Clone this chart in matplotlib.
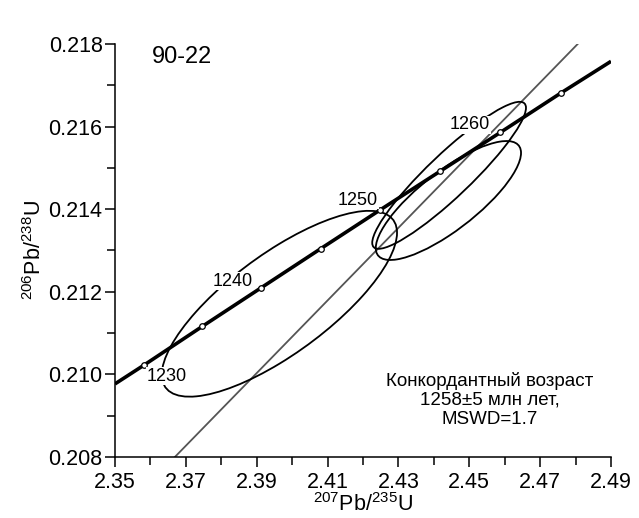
import numpy as np
import matplotlib
matplotlib.use("Agg")
import matplotlib.pyplot as plt
from matplotlib.patches import Ellipse

plt.rcParams['font.family'] = ['Liberation Sans', 'DejaVu Sans']
plt.rcParams['mathtext.fontset'] = 'custom'
plt.rcParams['mathtext.rm'] = 'Liberation Sans'
plt.rcParams['mathtext.it'] = 'Liberation Sans:italic'

# concordia curve (207Pb/235U, 206Pb/238U)
concordia_x = [2.3500, 2.3581, 2.3746, 2.3913, 2.4080, 2.4248, 2.4418, 2.4588, 2.4758, 2.4900]
concordia_y = [0.20977, 0.21022, 0.21116, 0.21210, 0.21304, 0.21398, 0.21492, 0.21586, 0.21681, 0.21758]

# age marks every 5 Ma
mark_ages = [1230, 1235, 1240, 1245, 1250, 1255, 1260, 1265]
mark_x = [2.3581, 2.3746, 2.3913, 2.4080, 2.4248, 2.4418, 2.4588, 2.4758]
mark_y = [0.21022, 0.21116, 0.21210, 0.21304, 0.21398, 0.21492, 0.21586, 0.21681]

# labelled ages
label_ages = ['1230', '1240', '1250', '1260']

# error ellipses: centre, half ranges, correlation
ell_cx = [2.3964, 2.4443, 2.4441]
ell_cy = [0.21171, 0.21482, 0.21421]
ell_sx = [0.0332, 0.0217, 0.0205]
ell_sy = [0.00225, 0.00178, 0.00144]
ell_rho = [0.764, 0.918, 0.80]

# grey reference line
ref_x = [2.3669, 2.4806]
ref_y = [0.2080, 0.2180]

x_ticks = [2.35, 2.37, 2.39, 2.41, 2.43, 2.45, 2.47, 2.49]
x_minor = [2.36, 2.38, 2.40, 2.42, 2.44, 2.46, 2.48]
y_ticks = [0.208, 0.210, 0.212, 0.214, 0.216, 0.218]
y_minor = [0.209, 0.211, 0.213, 0.215, 0.217]

fig = plt.figure(figsize=(6.39, 5.18), dpi=100)
ax = fig.add_axes([0.18, 0.1178, 0.7762, 0.7973])

# ellipses
for cx, cy, sx, sy, r in zip(ell_cx, ell_cy, ell_sx, ell_sy, ell_rho):
    cov = np.array([[sx**2, r*sx*sy], [r*sx*sy, sy**2]])
    vals, vecs = np.linalg.eigh(cov)
    ang = np.degrees(np.arctan2(vecs[1, 1], vecs[0, 1]))
    e = Ellipse((cx, cy), 2*np.sqrt(vals[1]), 2*np.sqrt(vals[0]), angle=ang,
                fill=False, edgecolor='black', lw=1.3, zorder=2)
    ax.add_patch(e)

ax.plot(ref_x, ref_y, color='#555555', lw=1.3, zorder=1)
ax.plot(concordia_x, concordia_y, color='black', lw=2.6, zorder=3, solid_capstyle='butt')
ax.plot(mark_x, mark_y, 'o', ms=4, mfc='white', mec='black', mew=0.9, zorder=4)

# age labels (white background hides ellipse lines)
label_pos = [(2.3647, 0.20996), (2.3833, 0.21226), (2.4186, 0.21422), (2.4502, 0.21604)]
for txt, (lx, ly) in zip(label_ages, label_pos):
    ax.text(lx, ly, txt, ha='center', va='center', fontsize=13, zorder=5,
            bbox=dict(facecolor='white', edgecolor='none', pad=0.5))

ax.text(2.3689, 0.21768, '90-22', ha='center', va='center', fontsize=17)
ax.text(2.4558, 0.20938, 'Конкордантный возраст\n1258±5 млн лет,\nMSWD=1.7',
        ha='center', va='center', fontsize=13.5, linespacing=1.15)

ax.set_xlim(2.35, 2.49)
ax.set_ylim(0.208, 0.218)
ax.set_xticks(x_ticks)
ax.set_xticklabels(['%.2f' % v for v in x_ticks])
ax.set_xticks(x_minor, minor=True)
ax.set_yticks(y_ticks)
ax.set_yticklabels(['%.3f' % v for v in y_ticks])
ax.set_yticks(y_minor, minor=True)

ax.spines['top'].set_visible(False)
ax.spines['right'].set_visible(False)
for s in ['left', 'bottom']:
    ax.spines[s].set_linewidth(1.1)
ax.tick_params(which='major', direction='out', length=7, width=1.1, labelsize=15.5, pad=2)
ax.tick_params(which='minor', direction='out', length=5.5, width=1.1)
ax.tick_params(axis='x', which='major', pad=4)

ax.set_xlabel(r'$\mathregular{^{207}Pb/^{235}U}$', fontsize=15.5, labelpad=0)
ax.set_ylabel(r'$\mathregular{^{206}Pb/^{238}U}$', fontsize=15.5, labelpad=2)

fig.savefig('out.png', dpi=100)
